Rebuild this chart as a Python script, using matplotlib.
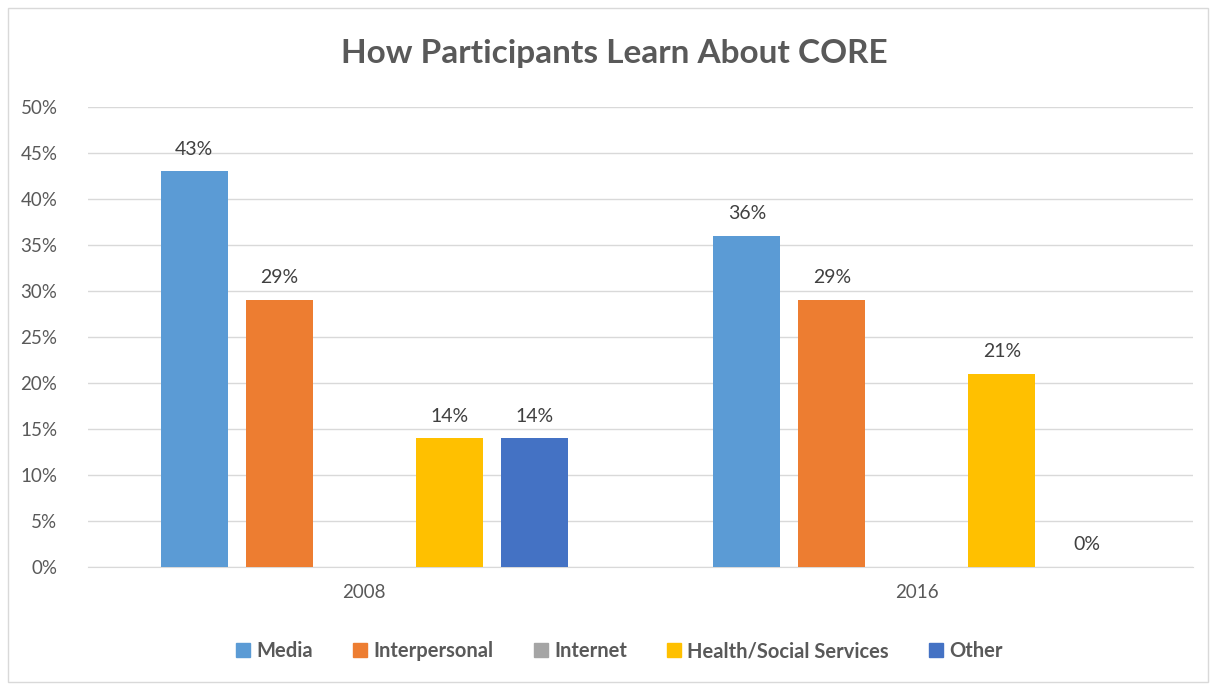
import numpy as np
import matplotlib
matplotlib.use('Agg')
import matplotlib.pyplot as plt
from matplotlib.patches import Rectangle, Patch

plt.rcParams['font.family'] = ['Lato', 'DejaVu Sans']

years = ['2008', '2016']
series = ['Media', 'Interpersonal', 'Internet', 'Health/Social Services', 'Other']
colors = ['#5B9BD5', '#ED7D31', '#A5A5A5', '#FFC000', '#4472C4']
# None = no data point in the sheet (no bar, no label)
media = [43, 36]
interpersonal = [29, 29]
internet = [None, None]
health = [14, 21]
other = [14, 0]
values = [media, interpersonal, internet, health, other]

fig = plt.figure(figsize=(12.1, 6.85), dpi=100)
fig.patches.append(Rectangle((0.007, 0.004), 0.991, 0.984, transform=fig.transFigure,
                             fill=False, edgecolor='#D9D9D9', linewidth=1))
ax = fig.add_axes([0.0727, 0.172, 0.9133, 0.6718])

x = np.arange(len(years))
step = 0.1538
width = 0.121
for i, (name, vals, c) in enumerate(zip(series, values, colors)):
    pos = x + (i - 2) * step
    for p, v in zip(pos, vals):
        if v is None:
            continue
        ax.bar(p, v, width, color=c, zorder=3)
        ax.text(p, v + 1.5, f'{v}%', ha='center', va='bottom', fontsize=14, color='#404040')

ax.set_xlim(-0.5, 1.5)
ax.set_ylim(0, 50)
ax.set_yticks(np.arange(0, 51, 5))
ax.set_yticklabels([f'{t}%' for t in range(0, 51, 5)])
ax.set_xticks(x)
ax.set_xticklabels(years)
ax.tick_params(axis='both', length=0, labelsize=13.5, labelcolor='#595959')
ax.tick_params(axis='y', pad=22)
ax.tick_params(axis='x', pad=12)
ax.grid(axis='y', color='#D9D9D9', linewidth=1, zorder=0)
for s in ['top', 'right', 'left']:
    ax.spines[s].set_visible(False)
ax.spines['bottom'].set_color('#D9D9D9')

fig.text(0.508, 0.922, 'How Participants Learn About CORE', ha='center', va='center',
         fontsize=24, fontweight='bold', color='#595959')

handles = [Patch(color=c, label=n) for n, c in zip(series, colors)]
fig.legend(handles=handles, loc='center', bbox_to_anchor=(0.512, 0.049), ncol=5, frameon=False,
           handlelength=0.7, handleheight=0.7, handletextpad=0.3, columnspacing=2.0,
           prop={'size': 14.5, 'weight': 'bold'}, labelcolor='#595959')

fig.savefig('out.png', dpi=100)
